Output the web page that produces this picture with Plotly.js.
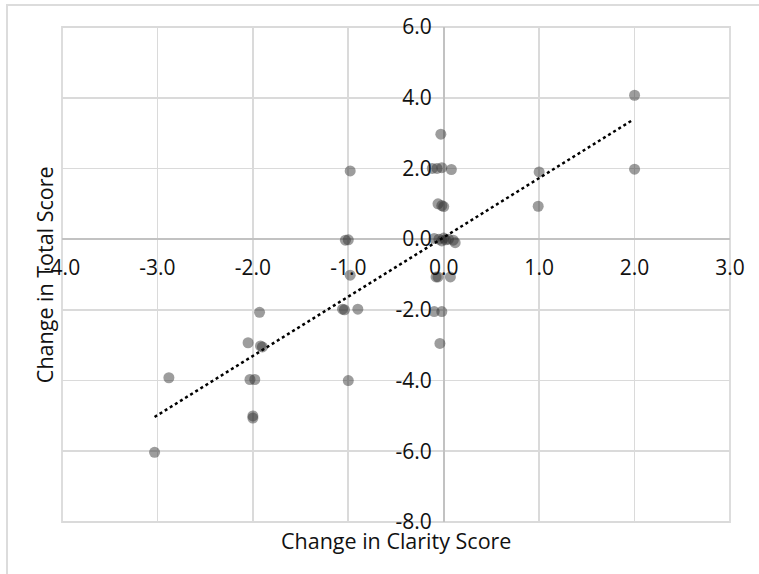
<!DOCTYPE html>
<html>
<head>
<meta charset="utf-8">
<script src="https://cdn.plot.ly/plotly-3.0.1.min.js"></script>
<style>
  html, body { margin: 0; padding: 0; background: #fff; }
  #wrap { position: relative; width: 759px; height: 574px; overflow: hidden; }
  #frame { position: absolute; left: 6px; top: 4px; width: 900px; height: 700px;
           border-left: 2px solid #dcdcdc; border-top: 2px solid #dcdcdc; pointer-events: none; }
  #chart { position: absolute; left: 0; top: 0; width: 759px; height: 574px; }
</style>
</head>
<body>
<div id="wrap">
  <div id="frame"></div>
  <div id="chart"></div>
</div>
<script>
// Change in Clarity Score (x) vs Change in Total Score (y)
const clarityChange = [
  2.0, 2.0, 1.0, 0.99,
  -0.03, -0.12, -0.07, -0.02, 0.08,
  -0.06, -0.02, 0.0,
  -0.1, -0.05, 0.0, 0.02, 0.05, 0.1, -0.02, 0.12,
  -0.08, -0.06, 0.07,
  -0.1, -0.02,
  -0.04,
  -0.98, -1.03, -1.0, -0.98, -1.06, -1.04, -0.9, -1.0,
  -1.93, -2.05, -1.92, -1.9, -2.88, -2.03, -1.98, -2.0, -2.0,
  -3.03
];
const totalChange = [
  4.07, 1.98, 1.9, 0.93,
  2.97, 2.0, 2.0, 2.02, 1.97,
  1.0, 0.95, 0.92,
  0.02, 0.0, 0.03, -0.02, 0.0, -0.03, -0.05, -0.1,
  -1.07, -1.07, -1.07,
  -2.05, -2.05,
  -2.95,
  1.93, -0.03, -0.02, -1.02, -1.98, -2.0, -1.98, -4.0,
  -2.07, -2.93, -3.02, -3.05, -3.92, -3.97, -3.97, -5.0, -5.06,
  -6.03
];
// Dotted trend line end points
const trendX = [-3.03, 1.98];
const trendY = [-5.03, 3.37];

// Tick values and labels
const xTickVals = [-4, -3, -2, -1, 0, 1, 2, 3];
const xTickText = ["-4.0", "-3.0", "-2.0", "-1.0", "0.0", "1.0", "2.0", "3.0"];
const yTickVals = [-8, -6, -4, -2, 0, 2, 4, 6];
const yTickText = ["-8.0", "-6.0", "-4.0", "-2.0", "0.0", "2.0", "4.0", "6.0"];

const xTitle = "Change in Clarity Score";
const yTitle = "Change in Total Score";

const FONT = "'Open Sans', sans-serif";

const traces = [
  {
    type: "scatter", mode: "markers",
    x: clarityChange, y: totalChange,
    marker: { size: 11, color: "rgb(50,50,50)", opacity: 0.48, line: { width: 0 } },
    hoverinfo: "x+y", showlegend: false
  },
  {
    type: "scatter", mode: "lines",
    x: trendX, y: trendY,
    line: { color: "#000", width: 2.5, dash: "dot" },
    hoverinfo: "skip", showlegend: false
  }
];

const axisCommon = {
  tickmode: "array",
  showgrid: true, gridcolor: "#dadada", gridwidth: 1.8,
  zeroline: true, zerolinecolor: "#c2c2c2", zerolinewidth: 1.8,
  showline: false, ticks: "",
  tickfont: { family: FONT, size: 21, color: "#111" },
  anchor: "free", fixedrange: true
};

const layout = {
  width: 759, height: 574,
  margin: { l: 62, r: 29, t: 27, b: 52 },
  paper_bgcolor: "rgba(0,0,0,0)",
  plot_bgcolor: "rgba(0,0,0,0)",
  font: { family: FONT, color: "#111" },
  xaxis: Object.assign({}, axisCommon, {
    range: [-4, 3], tickvals: xTickVals, ticktext: xTickText,
    position: 8 / 14, ticklabelstandoff: 14
  }),
  yaxis: Object.assign({}, axisCommon, {
    range: [-8, 6], tickvals: yTickVals, ticktext: yTickText,
    position: 4 / 7, ticklabelstandoff: 12
  }),
  shapes: [
    { type: "rect", xref: "paper", yref: "paper", x0: 0, x1: 1, y0: 0, y1: 1,
      line: { color: "#dadada", width: 1.8 }, fillcolor: "rgba(0,0,0,0)", layer: "below" }
  ],
  annotations: [
    { text: xTitle, xref: "paper", yref: "paper", x: 0.5, y: -0.037,
      xanchor: "center", yanchor: "middle", showarrow: false,
      font: { family: FONT, size: 21.5, color: "#111" } },
    { text: yTitle, xref: "paper", yref: "paper", x: -0.026, y: 0.5,
      xanchor: "center", yanchor: "middle", showarrow: false, textangle: -90,
      font: { family: FONT, size: 21.5, color: "#111" } }
  ]
};

Plotly.newPlot("chart", traces, layout, { displayModeBar: false, staticPlot: true });
</script>
</body>
</html>
